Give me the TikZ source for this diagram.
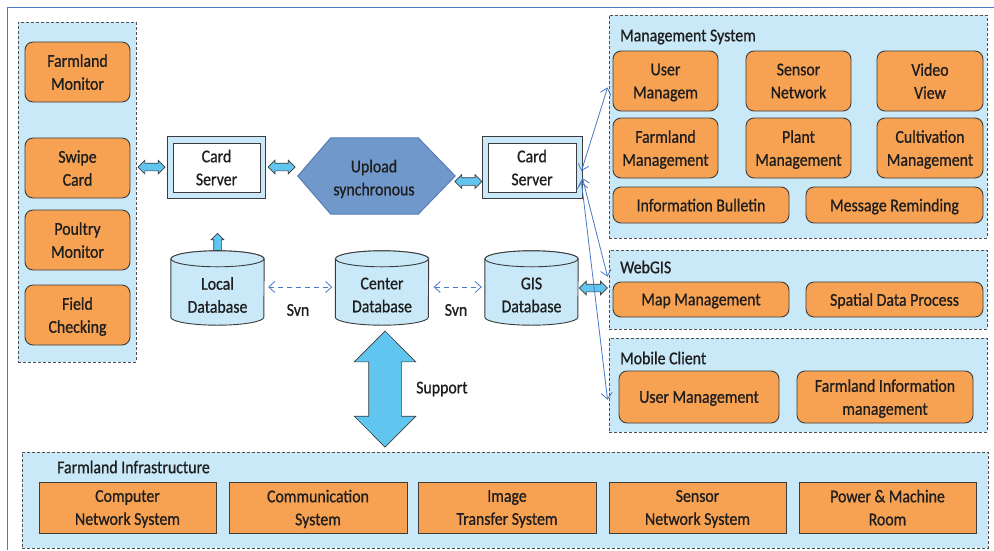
\documentclass[tikz,border=0pt]{standalone}
\usepackage{fontspec}
\setmainfont{Carlito}[FakeStretch=0.88,FakeBold=0.8]
\usetikzlibrary{arrows.meta,shapes.arrows,calc}
\definecolor{panelblue}{RGB}{201,233,248}
\definecolor{boxorange}{RGB}{247,161,82}
\definecolor{arrowblue}{RGB}{96,198,240}
\definecolor{hexblue}{RGB}{112,152,202}
\definecolor{hexline}{RGB}{84,124,184}
\definecolor{lineblue}{RGB}{72,122,200}
\definecolor{edgegray}{RGB}{60,60,60}
\definecolor{txt}{RGB}{30,30,30}
\tikzset{
  panel/.style={draw=edgegray!90, dash pattern=on 3pt off 2pt, line width=0.9pt, fill=panelblue, inner sep=0pt},
  obox/.style={draw=edgegray, line width=0.9pt, fill=boxorange, rounded corners=8pt, align=center, inner sep=0pt, text depth=0pt},
  sbox/.style={draw=edgegray, line width=0.9pt, fill=boxorange, align=center, inner sep=0pt, text depth=0pt},
  fatarrow/.style={double arrow, draw=edgegray, fill=arrowblue, line width=0.7pt, inner sep=3.5pt,
    double arrow head extend=3pt, minimum width=13pt, minimum height=#1},
  dbline/.style={draw=edgegray, line width=0.9pt, fill=panelblue},
  hold/.style={inner sep=0pt},
  ttl/.style={anchor=west, inner sep=0pt},
  lbl/.style={align=center, inner sep=0pt},
  thin/.style={lineblue, line width=0.8pt, {Straight Barb[length=6pt,width=11pt]}-{Straight Barb[length=6pt,width=11pt]}},
}
\newcommand\mycyl[1]{%
  \draw[dbline] ($(#1.north west)+(0,8)$) -- ($(#1.south west)+(0,-8)$)
    arc[start angle=180,end angle=0,x radius=46.5,y radius=8]
    -- ($(#1.north east)+(0,8)$)
    arc[start angle=0,end angle=-180,x radius=46.5,y radius=8] -- cycle;
  \draw[dbline] ($(#1.north)+(0,8)$) ellipse [x radius=46.5, y radius=8];}
\begin{document}
\begin{tikzpicture}[x=1pt,y=-1pt, font=\fontsize{18}{23}\selectfont, text=txt]
\useasboundingbox (0,0) rectangle (994,550);
\fill[white] (0,0) rectangle (994,550);
\draw[lineblue, line width=1pt] (994,7) -- (7,7) -- (7,550);

% left panel
\node[panel, minimum width=118pt, minimum height=340pt] (lp) at (77,192) {};
\node[obox, minimum width=105pt, minimum height=60pt] (fm) at (77.5,72) {Farmland\\Monitor};
\node[obox, minimum width=105pt, minimum height=60pt] (sc) at (77.5,168) {Swipe\\Card};
\node[obox, minimum width=105pt, minimum height=60pt] (pm) at (77.5,240) {Poultry\\Monitor};
\node[obox, minimum width=105pt, minimum height=60pt] (fc) at (77.5,315) {Field\\Checking};

% card servers
\node[draw=edgegray, line width=0.9pt, fill=panelblue, minimum width=98pt, minimum height=62pt] (cs1) at (216,167) {};
\node[draw=edgegray, line width=0.9pt, fill=white, minimum width=87pt, minimum height=49pt, align=center, inner sep=0pt, text depth=0pt] (cs1t) at (216.5,167.5) {Card\\Server};
\node[draw=edgegray, line width=0.9pt, fill=panelblue, minimum width=100pt, minimum height=62pt] (cs2) at (532,167) {};
\node[draw=edgegray, line width=0.9pt, fill=white, minimum width=88pt, minimum height=49pt, align=center, inner sep=0pt, text depth=0pt] (cs2t) at (532,167.5) {Card\\Server};

% hexagon
\path node[hold, minimum width=157pt, minimum height=76pt] (hex) at (376.5,176) {};
\draw[fill=hexblue, draw=hexline, line width=1pt] (hex.west) -- ($(hex.north west)+(33,0)$) -- ($(hex.north east)+(-37,0)$)
  -- (hex.east) -- ($(hex.south east)+(-37,0)$) -- ($(hex.south west)+(33,0)$) -- cycle;
\node[lbl] (hext) at (374,179) {Upload\\synchronous};

% databases
\path node[hold, minimum width=93pt, minimum height=74pt] (ldb) at (217.5,288) {};
\path node[hold, minimum width=93pt, minimum height=74pt] (cdb) at (382,288) {};
\path node[hold, minimum width=93pt, minimum height=74pt] (gdb) at (531.5,288) {};
\mycyl{ldb}\mycyl{cdb}\mycyl{gdb}
\node[lbl] (ldbt) at (217.5,295) {Local\\Database};
\node[lbl] (cdbt) at (382,295) {Center\\Database};
\node[lbl] (gdbt) at (531.5,295) {GIS\\Database};
\node[single arrow, shape border rotate=90, draw=edgegray, fill=arrowblue, line width=0.7pt, inner sep=3.5pt,
  minimum height=17pt, minimum width=12pt, single arrow head extend=2.5pt, anchor=tail] (up) at (ldb.north) {};

% svn dashed arrows
\draw[thin, dash pattern=on 5pt off 4pt] ($(ldb.east)+(4,-1)$) -- ($(cdb.west)+(-3,-1)$);
\draw[thin, dash pattern=on 5pt off 4pt] ($(cdb.east)+(5,-1)$) -- ($(gdb.west)+(-3,-1)$);
\node[lbl] (svn1) at (298,310) {Svn};
\node[lbl] (svn2) at (456,310) {Svn};

% management system
\node[panel, minimum width=378pt, minimum height=223pt] (ms) at (798,126.5) {};
\node[ttl] (mst) at (620,37) {Management System};
\node[obox, minimum width=105pt, minimum height=60pt] (um) at (665.5,81) {User\\Managem};
\node[obox, minimum width=105pt, minimum height=60pt] (sn) at (798.5,81) {Sensor\\Network};
\node[obox, minimum width=106pt, minimum height=60pt] (vv) at (930,81) {Video\\View};
\node[obox, minimum width=105pt, minimum height=60pt] (fmg) at (665.5,148) {Farmland\\Management};
\node[obox, minimum width=105pt, minimum height=60pt] (plm) at (798.5,148) {Plant\\Management};
\node[obox, minimum width=106pt, minimum height=60pt] (cvm) at (930,148) {Cultivation\\Management};
\node[obox, minimum width=176pt, minimum height=36pt] (ib) at (701,205) {Information Bulletin};
\node[obox, minimum width=177pt, minimum height=36pt] (mr) at (894.5,205) {Message Reminding};

% webgis
\node[panel, minimum width=378pt, minimum height=79pt] (web) at (798,289.5) {};
\node[ttl] (webt) at (620,267) {WebGIS};
\node[obox, minimum width=176pt, minimum height=35pt] (mapm) at (701,299.5) {Map Management};
\node[obox, minimum width=177pt, minimum height=35pt] (sdp) at (894.5,299.5) {Spatial Data Process};

% mobile client
\node[panel, minimum width=378pt, minimum height=94pt] (mob) at (798,385) {};
\node[ttl] (mobt) at (620,358) {Mobile Client};
\node[obox, minimum width=160pt, minimum height=52pt] (mum) at (699,397) {User Management};
\node[obox, minimum width=176pt, minimum height=52pt] (fim) at (885,397) {Farmland Information\\management};

% infrastructure
\node[panel, minimum width=966pt, minimum height=96pt] (inf) at (505,500) {};
\node[ttl] (inft) at (57,467) {Farmland Infrastructure};
\node[sbox, minimum width=177pt, minimum height=51pt] (cns) at (127.5,507.5) {Computer\\Network System};
\node[sbox, minimum width=178pt, minimum height=51pt] (coms) at (318,507.5) {Communication\\System};
\node[sbox, minimum width=178pt, minimum height=51pt] (its) at (507,507.5) {Image\\Transfer System};
\node[sbox, minimum width=177pt, minimum height=51pt] (sns) at (697.5,507.5) {Sensor\\Network System};
\node[sbox, minimum width=177pt, minimum height=51pt] (pmr) at (887.5,507.5) {Power \& Machine\\Room};

% fat arrows
\node[fatarrow=27pt] (a1) at ($(lp.east|-cs1.west)!0.5!(cs1.west)$) {};
\node[fatarrow=27pt] (a2) at ($(cs1.east)!0.5!(hex.west|-cs1.east)$) {};
\node[fatarrow=27pt] (a3) at ($(hex.east)!0.5!(cs2.west)+(0,10)$) {};
\node[fatarrow=28pt] (a4) at ($(gdb.east)!0.5!(web.west|-gdb.east)$) {};
\node[double arrow, shape border rotate=90, draw=edgegray, fill=arrowblue, line width=0.7pt, inner sep=16pt,
  minimum height=116pt, minimum width=61pt, double arrow head extend=14.5pt] (sup) at (385,389) {};
\node[ttl] (supt) at (416,389) {Support};

% fan connectors
\coordinate (tm) at ($(ms.north west)+(-1,73)$);
\coordinate (tw) at ($(web.north west)+(-1,27)$);
\coordinate (tmo) at ($(mob.north west)+(-1,62)$);
\draw[thin] ($(cs2.east)+(-1,4)$) -- (tm);
\draw[thin] ($(cs2.east)+(0,11)$) -- (tw);
\draw[thin] ($(cs2.east)+(-1,15)$) -- (tmo);
\end{tikzpicture}
\end{document}
